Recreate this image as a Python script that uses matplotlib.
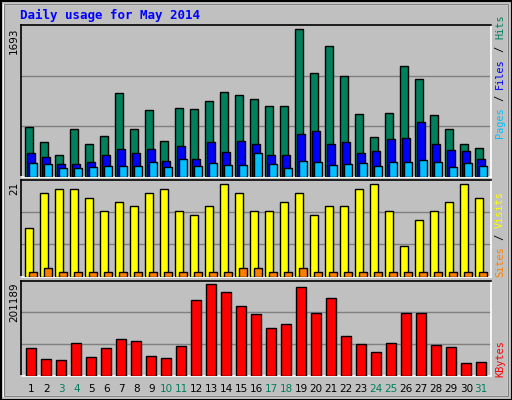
import matplotlib
matplotlib.use("Agg")
import matplotlib.pyplot as plt
from matplotlib.patches import Rectangle
import numpy as np

days = list(range(1, 32))
hits = [577,405,256,554,382,474,966,554,772,416,795,783,875,978,944,898,817,817,1693,1196,1505,1161,726,462,737,1276,1127,714,554,382,336]
files = [279,233,153,153,176,256,325,279,325,187,359,210,405,290,416,382,256,256,497,531,382,405,279,302,439,451,634,382,313,302,210]
pages = [164,153,107,107,118,130,130,130,176,118,210,130,164,141,141,279,153,107,187,176,141,153,164,130,176,176,199,176,118,164,130]
sites = [11,19,20,20,18,15,17,16,19,20,15,14,16,21,19,15,15,17,19,14,16,16,20,21,15,7,13,15,17,21,18]
visits = [1,2,1,1,1,1,1,1,1,1,1,1,1,1,2,2,1,1,2,1,1,1,1,1,1,1,1,1,1,1,1]
kbytes = [60200,36000,33800,71200,40400,60200,80000,75600,42600,38200,64600,166000,201189,183600,152700,135100,104300,113100,194600,137300,170400,86600,69000,51400,71200,137300,137300,66800,62400,27200,29400]
weekends = [3,4,10,11,17,18,24,25,31]

W, H = 512, 400
fig = plt.figure(figsize=(W/100, H/100), dpi=100)
fig.patch.set_facecolor('#c0c0c0')
BG = '#c0c0c0'
fig.patches.append(Rectangle((0.5/W, 0.5/H), 1-1/W, 1-1/H, transform=fig.transFigure, fill=False, ec='black', lw=1.5))
fig.patches.append(Rectangle((3/W, 4/H), 1-7/W, 1-8/H, transform=fig.transFigure, fill=False, ec='white', lw=1))
fig.patches.append(Rectangle((4/W, 4/H), 1-8/W, 1-8/H, transform=fig.transFigure, fill=False, ec='#808080', lw=0.8))

def ax_px(x0, y0, x1, y1):
    return fig.add_axes([x0/W, 1-y1/H, (x1-x0)/W, (y1-y0)/H])

XL = (0.313, 31.65)
def setup(ax, ymax):
    ax.set_facecolor(BG)
    ax.set_xlim(*XL)
    ax.set_ylim(0, ymax)
    ax.set_xticks([]); ax.set_yticks([])
    for s in ['left', 'top']:
        ax.spines[s].set_color('black')
    for s in ['right', 'bottom']:
        ax.spines[s].set_color('white')
    for sp in ax.spines.values():
        sp.set_linewidth(1.2)
    for f in (1/3, 2/3):
        ax.axhline(ymax*f, color='#808080', lw=1, zorder=0)

d = np.array(days)
kw = dict(edgecolor='black', linewidth=1, zorder=3)

ax1 = ax_px(20.7, 25, 490.7, 177)
setup(ax1, 1742)
ax1.bar(d-0.13, hits, 0.49, color='#00805c', **kw)
ax1.bar(d, files, 0.49, color='#0000ff', **kw)
ax1.bar(d+0.13, pages, 0.49, color='#00c0ff', **kw)

ax2 = ax_px(20.7, 180, 490.7, 276.7)
setup(ax2, 22.0)
ax2.bar(d-0.13, sites, 0.49, color='#ffff00', **kw)
ax2.bar(d+0.13, visits, 0.49, color='#ff8000', **kw)

ax3 = ax_px(20.7, 280.7, 490.7, 375.7)
setup(ax3, 209300)
ax3.bar(d+0.02, kbytes, 0.67, color='#ff0000', **kw)

mono = 'DejaVu Sans Mono'
fig.text(20/W, 1-15/H, 'Daily usage for May 2014', color='#0000ff', fontsize=9, fontweight='bold', family=mono, va='center', ha='left')

def left_label(txt, ytop):
    fig.text(14/W, 1-ytop/H, txt, rotation=90, fontsize=7.5, family='DejaVu Sans', ha='center', va='top')
left_label(str(max(hits)), 28)
left_label(str(max(sites)), 182)
left_label(str(max(kbytes)), 282)

fs = 7.4
charw = fs*0.602*100/72
def right_label(parts, ybottom):
    y = ybottom
    for t, c in parts:
        fig.text(500/W, 1-y/H, t, rotation=90, fontsize=fs, family=mono, color=c, ha='center', va='bottom')
        y -= len(t)*charw
right_label([('Pages', '#00c0ff'), (' / ', '#000000'), ('Files', '#0000ff'), (' / ', '#000000'), ('Hits', '#00805c')], 138)
right_label([('Sites', '#ff8000'), (' / ', '#000000'), ('Visits', '#ffff00')], 277)
right_label([('KBytes', '#ff0000')], 377)

for day in days:
    xpix = 20.7 + (day + 0.02 - XL[0]) / (XL[1]-XL[0]) * 470
    fig.text(xpix/W, 1-389/H, str(day), fontsize=7.5, family='DejaVu Sans',
             color='#00805c' if day in weekends else 'black', ha='center', va='center')

fig.savefig('out.png', dpi=100, facecolor=fig.get_facecolor())
